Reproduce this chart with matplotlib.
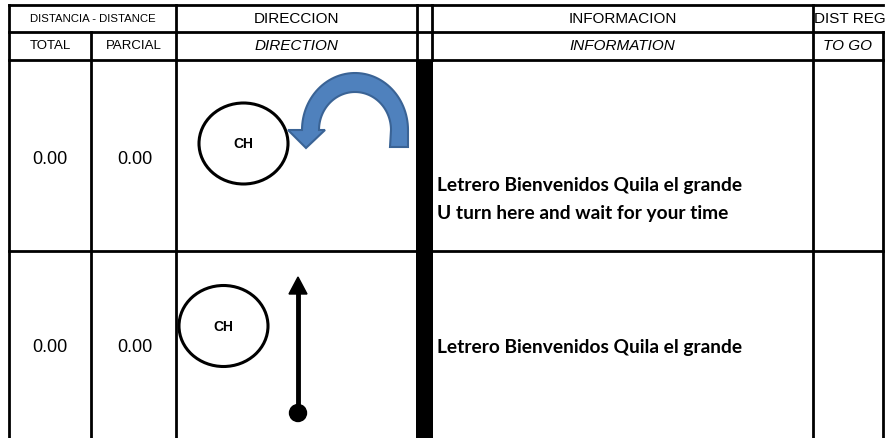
import numpy as np
import matplotlib
matplotlib.use("Agg")
from matplotlib import pyplot as plt
from matplotlib.patches import Ellipse, Polygon, Circle

# Datos de la hoja de ruta
totales = ["0.00", "0.00"]
parciales = ["0.00", "0.00"]
informacion = [
    ["Letrero Bienvenidos Quila el grande", "U turn here and wait for your time"],
    ["Letrero Bienvenidos Quila el grande"],
]
cabecera_1 = ["DISTANCIA - DISTANCE", "DIRECCION", "INFORMACION", "DIST REG"]
cabecera_2 = ["TOTAL", "PARCIAL", "DIRECTION", "INFORMATION", "TO GO"]

W, H = 886, 438
fig = plt.figure(figsize=(W / 100, H / 100), dpi=100)
ax = fig.add_axes([0, 0, 1, 1])
ax.set_xlim(0, W)
ax.set_ylim(H, 0)
ax.axis("off")

# Columnas y filas (pixeles)
x_izq, x_tot, x_dir, x_dir2, x_inf, x_reg, x_der = 9, 91, 176, 417, 432, 813, 883
y_top, y_h1, y_h2, y_f1 = 5, 32, 60, 251
lw = 2.0
k = dict(color="black", lw=lw, solid_capstyle="projecting")

# lineas horizontales
ax.plot([x_izq, x_der], [y_top, y_top], **k)
ax.plot([x_izq, x_der], [y_h1, y_h1], **k)
ax.plot([x_izq, x_der], [y_h2, y_h2], **k)
ax.plot([x_izq, x_dir2], [y_f1, y_f1], **k)
ax.plot([x_inf, x_der], [y_f1, y_f1], **k)

# lineas verticales
ax.plot([x_izq, x_izq], [y_top, H], **k)
ax.plot([x_tot, x_tot], [y_h1, H], **k)
ax.plot([x_dir, x_dir], [y_top, H], **k)
ax.plot([x_dir2, x_dir2], [y_top, y_h2], **k)
ax.plot([x_inf, x_inf], [y_top, y_h2], **k)
ax.plot([x_reg, x_reg], [y_top, H], **k)
ax.plot([x_der, x_der], [y_h1, H], **k)
# barra negra gruesa
ax.fill_between([x_dir2 - 1, x_inf + 1], y_h2, H, color="black", lw=0)

# textos de cabecera
f_ar = "Liberation Sans"
ax.text((x_izq + x_dir) / 2, 19, cabecera_1[0], ha="center", va="center", fontsize=8.2, family=f_ar)
ax.text((x_dir + x_dir2) / 2, 19, cabecera_1[1], ha="center", va="center", fontsize=11, family=f_ar)
ax.text((x_inf + x_reg) / 2, 19, cabecera_1[2], ha="center", va="center", fontsize=11, family=f_ar)
ax.text(x_reg + 1, 19, cabecera_1[3], ha="left", va="center", fontsize=11, family=f_ar)
ax.text((x_izq + x_tot) / 2, 46, cabecera_2[0], ha="center", va="center", fontsize=9.5, family=f_ar)
ax.text((x_tot + x_dir) / 2, 46, cabecera_2[1], ha="center", va="center", fontsize=9.5, family=f_ar)
ax.text((x_dir + x_dir2) / 2, 46, cabecera_2[2], ha="center", va="center", fontsize=11, family=f_ar, style="italic")
ax.text((x_inf + x_reg) / 2, 46, cabecera_2[3], ha="center", va="center", fontsize=11, family=f_ar, style="italic")
ax.text((x_reg + x_der) / 2, 46, cabecera_2[4], ha="center", va="center", fontsize=11, family=f_ar, style="italic")

# filas de datos
y_dist = [160, 347]
y_info = [[186, 213], [347]]
for i in range(len(totales)):
    ax.text((x_izq + x_tot) / 2, y_dist[i], totales[i], ha="center", va="center", fontsize=13, family=f_ar)
    ax.text((x_tot + x_dir) / 2 + 1, y_dist[i], parciales[i], ha="center", va="center", fontsize=13, family=f_ar)
    for linea, y in zip(informacion[i], y_info[i]):
        ax.text(437, y, linea, ha="left", va="center", fontsize=13.8, family="Lato", weight="bold")

# dibujos de direccion: glorieta CH
for cx, cy in [(243.5, 143.5), (223.5, 326)]:
    ax.add_patch(Ellipse((cx, cy), 89, 81, fill=False, ec="black", lw=2.2))
    ax.text(cx, cy + 1, "CH", ha="center", va="center", fontsize=10, weight="bold", family=f_ar)

# flecha en U (azul)
cx, cy = 355, 130
t = np.linspace(np.pi, 0, 60)
outer = np.column_stack([cx + 53 * np.cos(t), cy - 57 * np.sin(t)])
inner = np.column_stack([cx + 36 * np.cos(t[::-1]), cy - 38 * np.sin(t[::-1])])
pts = np.vstack([outer, [[408, 147], [390, 147]], inner,
                 [[325, 130], [306, 148], [288, 130]]])
ax.add_patch(Polygon(pts, closed=True, fc="#4F81BD", ec="#3A6395", lw=1.5))

# flecha recta
ax.plot([298, 298], [292, 413], color="black", lw=3.5)
ax.add_patch(Polygon([[289, 294], [307, 294], [298, 277]], closed=True, fc="black", ec="black"))
ax.add_patch(Circle((298, 413), 8.5, fc="black", ec="black"))

fig.savefig("out.png", dpi=100)
